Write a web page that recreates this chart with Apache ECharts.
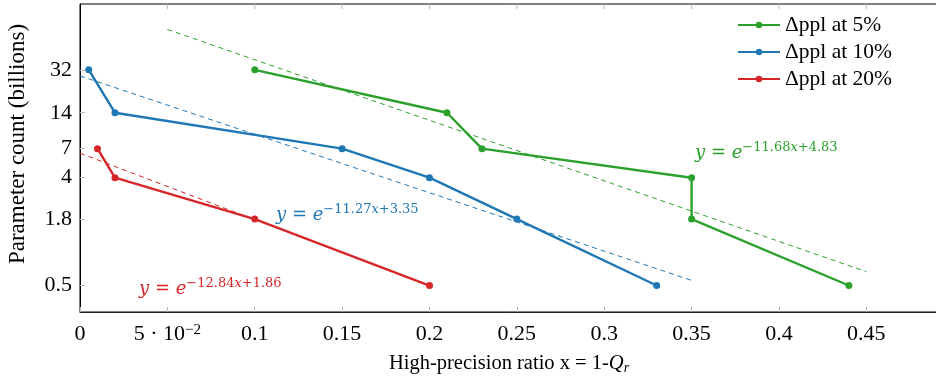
<!DOCTYPE html>
<html><head><meta charset="utf-8">
<script src="https://cdn.jsdelivr.net/npm/echarts@6/dist/echarts.min.js"></script>
<style>html,body{margin:0;padding:0;background:#fff}#c{width:936px;height:377px}</style>
</head><body><div id="c"></div>
<script>
// ---- data ----
const xTicks = [0, 0.05, 0.1, 0.15, 0.2, 0.25, 0.3, 0.35, 0.4, 0.45];
const yTicks = [0.5, 1.8, 4, 7, 14, 32];
const seriesNames = ['Δppl at 5%', 'Δppl at 10%', 'Δppl at 20%'];
const ppl5  = [[0.1, 32], [0.21, 14], [0.23, 7], [0.35, 4], [0.35, 1.8], [0.44, 0.5]];
const ppl10 = [[0.005, 32], [0.02, 14], [0.15, 7], [0.2, 4], [0.25, 1.8], [0.33, 0.5]];
const ppl20 = [[0.01, 7], [0.02, 4], [0.1, 1.8], [0.2, 0.5]];
// fit-line endpoints
const fit5  = [[0.05, 69.8], [0.45, 0.653]];
const fit10 = [[0.0, 28.5], [0.35, 0.552]];
const fit20 = [[0.0, 6.42], [0.1, 1.78]];
const fitLabels = [
  ['−11.68', '+4.83'],
  ['−11.27', '+3.35'],
  ['−12.84', '+1.86']
];
// ---- chart ----
const colors = ['#2ca02c', '#1f77b4', '#d62728'];
const serif = '"Liberation Serif","DejaVu Serif",serif';
const dserif = '"DejaVu Serif","Liberation Serif",serif';
const chart = echarts.init(document.getElementById('c'));

function solid(name, data, color) {
  return {
    name, type: 'line', data, color,
    symbol: 'circle', symbolSize: 7,
    lineStyle: { width: 2.4, color }, itemStyle: { color },
    z: 5, animation: false
  };
}
function dashed(data, color) {
  return {
    type: 'line', data, symbol: 'none', silent: true,
    lineStyle: { width: 1, type: [5, 4], color }, z: 3, animation: false
  };
}
function mathText(idx, left, top) {
  const c = colors[idx];
  const [a, b] = fitLabels[idx];
  return {
    type: 'text', left, top, z: 10,
    style: {
      fill: c,
      text: '{i|y}{n| = }{i|e}{s|' + a + '}{si|x}{s|' + b + '}',
      rich: {
        i: { fontFamily: dserif, fontStyle: 'italic', fontSize: 18, fill: c, lineHeight: 24 },
        n: { fontFamily: dserif, fontSize: 18, fill: c, lineHeight: 24 },
        s: { fontFamily: dserif, fontSize: 13, fill: c, verticalAlign: 'top', lineHeight: 7 },
        si: { fontFamily: dserif, fontStyle: 'italic', fontSize: 13, fill: c, verticalAlign: 'top', lineHeight: 7 }
      }
    }
  };
}

const option = {
  animation: false,
  backgroundColor: '#fff',
  color: colors,
  grid: { left: 80, right: -2, top: 4, bottom: 65, show: true, borderColor: '#000', borderWidth: 1, outerBoundsMode: 'none', containLabel: false },
  legend: {
    orient: 'vertical', left: 737, top: 14, padding: 0, itemGap: 5,
    itemWidth: 42, itemHeight: 8,
    data: seriesNames,
    textStyle: { fontFamily: serif, fontSize: 21.5, color: '#000' }
  },
  xAxis: {
    type: 'value', min: 0, max: 0.491,
    name: '{t|High-precision ratio x = 1-}{q|Q}{r|r}',
    nameLocation: 'middle', nameGap: 41,
    nameTextStyle: {
      rich: {
        t: { fontFamily: serif, fontSize: 20.5, color: '#000', lineHeight: 22 },
        q: { fontFamily: serif, fontStyle: 'italic', fontSize: 20.5, color: '#000', lineHeight: 22 },
        r: { fontFamily: serif, fontStyle: 'italic', fontSize: 14, color: '#000', verticalAlign: 'bottom', lineHeight: 14 }
      }
    },
    axisLine: { lineStyle: { color: '#222', width: 1 } },
    axisTick: { inside: true, length: 5, lineStyle: { color: '#bbb' }, customValues: xTicks },
    axisLabel: {
      customValues: xTicks, margin: 11, color: '#000',
      fontFamily: serif, fontSize: 22,
      formatter: v => {
        if (Math.abs(v - 0.05) < 1e-9) return '{b|5 · 10}{s|−2}';
        return '{b|' + (+v.toFixed(2)) + '}';
      },
      rich: {
        b: { fontFamily: serif, fontSize: 22, color: '#000', lineHeight: 22 },
        s: { fontFamily: serif, fontSize: 15, color: '#000', verticalAlign: 'top', lineHeight: 10 }
      }
    },
    splitLine: { show: false }
  },
  yAxis: {
    type: 'log', logBase: Math.E, min: 0.3, max: 114,
    name: 'Parameter count (billions)',
    nameLocation: 'middle', nameGap: 51, nameRotate: 90,
    nameTextStyle: { fontFamily: serif, fontSize: 23, color: '#000', padding: [0, 0, 0, 28] },
    axisLine: { show: true, lineStyle: { color: '#000', width: 1 } },
    axisTick: { inside: true, length: 5, lineStyle: { color: '#bbb' }, customValues: yTicks },
    axisLabel: {
      customValues: yTicks, margin: 8, color: '#000', fontFamily: serif, fontSize: 22,
      formatter: v => String(+(+v).toPrecision(3))
    },
    splitLine: { show: false }
  },
  series: [
    solid(seriesNames[0], ppl5, colors[0]),
    solid(seriesNames[1], ppl10, colors[1]),
    solid(seriesNames[2], ppl20, colors[2]),
    dashed(fit5, colors[0]),
    dashed(fit10, colors[1]),
    dashed(fit20, colors[2])
  ],
  graphic: [
    mathText(0, 695, 141),
    mathText(1, 276, 203),
    mathText(2, 139, 277)
  ]
};
chart.setOption(option);
// top-edge ticks mirroring the bottom ones, placed through the axis scale
const topTicks = xTicks.filter(v => v > 0).map(v => {
  const p = chart.convertToPixel({ xAxisIndex: 0 }, v);
  return { type: 'line', shape: { x1: p, y1: 4, x2: p, y2: 9 }, style: { stroke: '#bbb', lineWidth: 1 }, silent: true };
});
chart.setOption({ graphic: option.graphic.concat(topTicks) });
</script></body></html>
